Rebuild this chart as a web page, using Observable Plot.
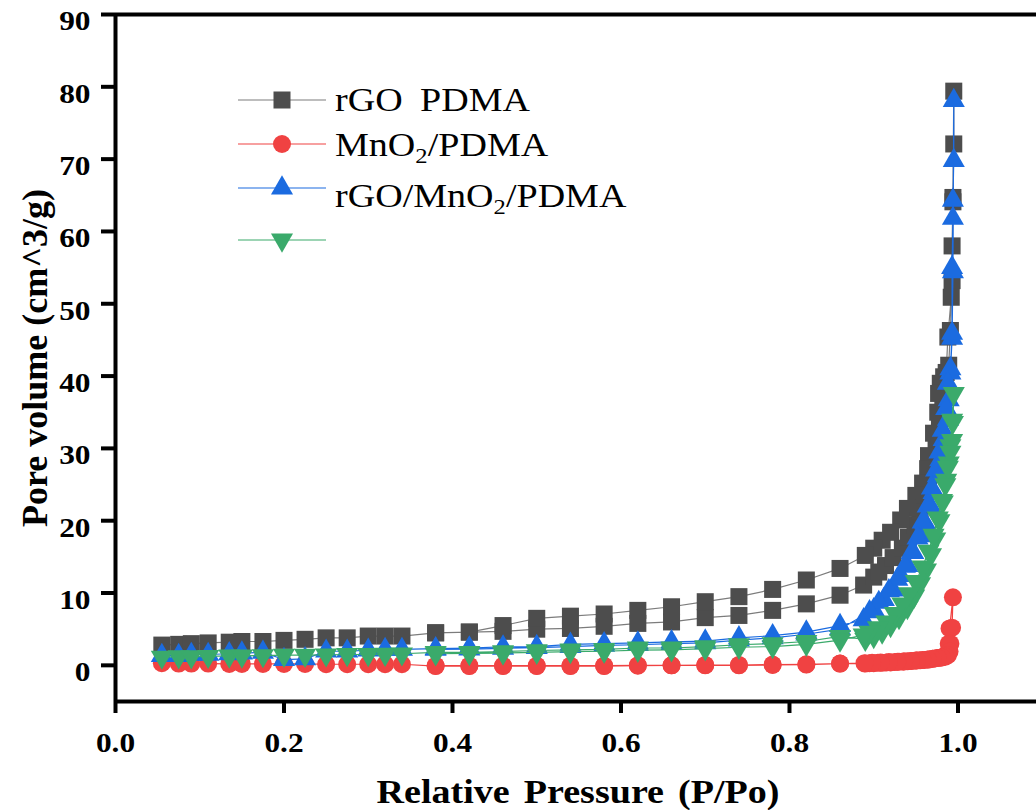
<!DOCTYPE html>
<html>
<head>
<meta charset="utf-8">
<script src="https://cdn.jsdelivr.net/npm/d3@7"></script>
<script src="https://cdn.jsdelivr.net/npm/@observablehq/plot@0.6"></script>
<style>
  body { margin: 0; background: #fff; }
</style>
</head>
<body>
<div id="chart"></div>
<script>
// N2 sorption isotherms: pore volume vs relative pressure, adsorption branch
// (low -> high P/Po) followed by the desorption branch (high -> low P/Po).

const seriesNames = ["rGO PDMA", "MnO2/PDMA", "rGO/MnO2/PDMA", ""];
const markerColors = ["#4d4d4d", "#f04242", "#1b6be0", "#3aaa6b"];
const lineColors = ["#7c7c7c", "#f04242", "#1b6be0", "#3aaa6b"];

const xTicks = [0, 0.2, 0.4, 0.6, 0.8, 1.0];
const yTicks = [0, 10, 20, 30, 40, 50, 60, 70, 80, 90];

// shared pressure steps of the adsorption start and of the mid range
const pLow = [0.055, 0.075, 0.09, 0.11, 0.135, 0.15, 0.175, 0.2, 0.225, 0.25, 0.275, 0.3, 0.32, 0.34];
const pMid = [0.38, 0.42, 0.46, 0.50, 0.54, 0.58, 0.62, 0.66, 0.70, 0.74, 0.78, 0.82, 0.86];

// rGO PDMA
const rgoLow = [2.8, 2.9, 3.0, 3.1, 3.2, 3.3, 3.3, 3.45, 3.6, 3.8, 3.8, 4.05, 4.05, 4.05];
const rgoMidAds = [4.5, 4.6, 4.7, 5.0, 5.1, 5.4, 5.8, 6.0, 6.6, 6.9, 7.6, 8.5, 9.7];
const rgoHighAdsP = [0.888, 0.9, 0.906, 0.914, 0.923, 0.934, 0.941, 0.949, 0.955, 0.961, 0.965, 0.97, 0.974, 0.978, 0.982, 0.986, 0.988, 0.992, 0.993, 0.994, 0.995];
const rgoHighAdsV = [11.1, 12.2, 12.9, 13.8, 14.9, 16.2, 17.7, 19.4, 21.4, 23.8, 26.0, 28.4, 31.0, 34.0, 37.0, 40.5, 45.4, 50.9, 58.0, 64.7, 79.4];
const rgoHighDesP = [0.995, 0.994, 0.993, 0.991, 0.989, 0.983, 0.979, 0.977, 0.976, 0.971, 0.965, 0.964, 0.958, 0.95, 0.94, 0.932, 0.92, 0.91, 0.9, 0.89];
const rgoHighDesV = [72.1, 64.1, 53.2, 46.3, 41.5, 39.9, 39.0, 37.6, 35.0, 32.1, 29.0, 27.2, 25.2, 23.5, 21.7, 20.1, 18.4, 17.3, 16.2, 15.2];
const rgoMidDes = [4.5, 4.6, 5.5, 6.5, 6.8, 7.1, 7.6, 8.1, 8.8, 9.5, 10.5, 11.8, 13.4];

// MnO2/PDMA
const mnoLow = [0.3, 0.25, 0.25, 0.25, 0.2, 0.2, 0.2, 0.2, 0.2, 0.15, 0.15, 0.15, 0.15, 0.15];
const mnoMidAds = [-0.1, -0.1, -0.1, -0.1, -0.1, -0.1, -0.05, 0, 0, 0, 0.05, 0.1, 0.25];
const mnoHighAdsP = [0.89, 0.895, 0.9, 0.905, 0.91, 0.915, 0.92, 0.925, 0.93, 0.935, 0.94, 0.945, 0.95, 0.955, 0.96, 0.965, 0.97, 0.975, 0.98, 0.984, 0.987, 0.989, 0.99, 0.994];
const mnoHighAdsV = [0.25, 0.3, 0.3, 0.35, 0.35, 0.4, 0.4, 0.45, 0.5, 0.5, 0.55, 0.6, 0.65, 0.7, 0.75, 0.8, 0.9, 1.0, 1.1, 1.3, 1.6, 3.0, 5.1, 9.4];
const mnoHighDesP = [0.993, 0.991, 0.99, 0.988, 0.985, 0.981, 0.976, 0.97, 0.964, 0.958, 0.951, 0.944, 0.936, 0.928, 0.918, 0.908, 0.898, 0.889];
const mnoHighDesV = [5.2, 3.0, 1.9, 1.4, 1.2, 1.1, 1.0, 0.9, 0.8, 0.75, 0.7, 0.6, 0.55, 0.5, 0.45, 0.4, 0.35, 0.3];
const mnoMidDes = [-0.05, -0.05, -0.05, -0.05, -0.05, -0.05, 0, 0, 0.05, 0.05, 0.1, 0.15, 0.25];

// rGO/MnO2/PDMA
const triLow = [1.35, 1.35, 1.5, 1.5, 1.6, 1.7, 1.8, 0.8, 0.9, 1.95, 1.95, 2.1, 2.2, 2.2];
const triMidAds = [2.3, 2.4, 2.55, 2.6, 2.9, 3.0, 3.1, 3.25, 3.35, 3.8, 4.1, 4.6, 5.5];
const triHighAdsP = [0.888, 0.9, 0.912, 0.923, 0.932, 0.94, 0.947, 0.955, 0.961, 0.967, 0.971, 0.976, 0.979, 0.983, 0.988, 0.989, 0.991, 0.993, 0.994, 0.995];
const triHighAdsV = [6.3, 7.7, 9.1, 10.4, 12.4, 13.8, 15.6, 17.9, 19.7, 22.1, 23.9, 26.2, 28.4, 31.2, 34.0, 36.7, 40.4, 45.2, 54.4, 78.1];
const triHighDesP = [0.995, 0.994, 0.994, 0.993, 0.993, 0.991, 0.988, 0.986, 0.982, 0.978, 0.974, 0.969, 0.964, 0.958, 0.952, 0.945, 0.937, 0.928, 0.918, 0.906, 0.895];
const triHighDesV = [69.8, 64.3, 61.8, 55.0, 45.9, 41.0, 39.0, 35.5, 32.5, 29.5, 27.0, 24.5, 22.0, 19.8, 17.6, 15.6, 13.7, 11.9, 10.3, 8.7, 7.4];
const triMidDes = [2.2, 2.25, 2.35, 2.45, 2.6, 2.75, 2.85, 3.0, 3.1, 3.5, 3.8, 4.3, 5.0];

// fourth sample (no legend text)
const invLow = [1.15, 1.2, 1.2, 1.25, 1.3, 1.3, 1.35, 1.4, 1.4, 1.45, 1.5, 1.5, 1.55, 1.6];
const invMidAds = [1.8, 1.8, 1.9, 2.05, 2.15, 2.2, 2.4, 2.4, 2.6, 2.85, 3.0, 3.3, 4.0];
const invHighAdsP = [0.89, 0.9, 0.91, 0.92, 0.93, 0.94, 0.948, 0.955, 0.962, 0.968, 0.973, 0.978, 0.982, 0.986, 0.989, 0.991, 0.993, 0.995];
const invHighAdsV = [3.6, 4.0, 4.6, 5.5, 6.6, 8.0, 9.6, 11.3, 13.2, 15.3, 17.5, 20.0, 22.6, 25.6, 28.0, 30.4, 33.9, 37.6];
const invHighDesP = [0.994, 0.993, 0.991, 0.988, 0.985, 0.981, 0.976, 0.971, 0.965, 0.958, 0.95, 0.942, 0.934, 0.925, 0.915, 0.905, 0.895, 0.888];
const invHighDesV = [33.6, 31.1, 29.5, 27.4, 25.0, 22.8, 20.4, 18.0, 15.8, 13.6, 11.6, 9.9, 8.5, 7.2, 6.0, 5.2, 4.6, 4.2];
const invMidDes = [1.6, 1.65, 1.7, 1.8, 1.9, 1.95, 2.1, 2.15, 2.3, 2.5, 2.6, 2.9, 3.5];

const pairs = (ps, vs) => ps.map((p, i) => ({p, v: vs[i]}));

// one continuous path per sample: adsorption up, then desorption back down
function isotherm(low, midAds, hiAdsP, hiAdsV, hiDesP, hiDesV, midDes) {
  return [
    ...pairs(pLow, low),
    ...pairs(pMid, midAds),
    ...pairs(hiAdsP, hiAdsV),
    ...pairs(hiDesP, hiDesV),
    ...pairs(pMid, midDes).reverse()
  ];
}

const samples = [
  isotherm(rgoLow, rgoMidAds, rgoHighAdsP, rgoHighAdsV, rgoHighDesP, rgoHighDesV, rgoMidDes),
  isotherm(mnoLow, mnoMidAds, mnoHighAdsP, mnoHighAdsV, mnoHighDesP, mnoHighDesV, mnoMidDes),
  isotherm(triLow, triMidAds, triHighAdsP, triHighAdsV, triHighDesP, triHighDesV, triMidDes),
  isotherm(invLow, invMidAds, invHighAdsP, invHighAdsV, invHighDesP, invHighDesV, invMidDes)
];

// downward-pointing triangle, same area convention as d3.symbolTriangle
const sqrt3 = Math.sqrt(3);
const triangleDown = {
  draw(context, size) {
    const y = Math.sqrt(size / (sqrt3 * 3));
    context.moveTo(0, y * 2);
    context.lineTo(-sqrt3 * y, -y);
    context.lineTo(sqrt3 * y, -y);
    context.closePath();
  }
};
const symbols = ["square", "circle", "triangle", triangleDown];
const d3Symbols = [d3.symbolSquare, d3.symbolCircle, d3.symbolTriangle, triangleDown];
const radii = [9.6, 9, 8.2, 8.2];

const FONT = '"Liberation Serif", "Times New Roman", serif';
const STRETCH = 1.12;

const marks = [];
samples.forEach((rows, i) => {
  marks.push(Plot.line(rows, {x: "p", y: "v", stroke: lineColors[i], strokeWidth: 1.2}));
  marks.push(Plot.dot(rows, {x: "p", y: "v", symbol: symbols[i], r: radii[i], fill: markerColors[i], stroke: "none"}));
});

const chart = Plot.plot({
  width: 1036,
  height: 810,
  marginLeft: 115,
  marginRight: 0,
  marginTop: 14,
  marginBottom: 109,
  style: {fontFamily: FONT, fontWeight: "bold", color: "#000", background: "#fff"},
  x: {domain: [0, 1.0932]},
  y: {domain: [-5, 90]},
  marks: [
    ...marks,
    Plot.ruleX([0], {strokeWidth: 4}),
    Plot.ruleY([-5, 90], {strokeWidth: 4}),
    Plot.axisX({ticks: xTicks, tickFormat: d3.format(".1f"), tickSize: 12, tickPadding: 19, strokeWidth: 4, fontSize: 28, label: null}),
    Plot.axisY({ticks: yTicks, tickSize: 14, strokeWidth: 4, fill: "none", label: null}),
    Plot.axisY({ticks: yTicks, tickFormat: d3.format("d"), tickSize: 0, tickPadding: 25, dy: 7, fontSize: 28, label: null})
  ]
});

document.getElementById("chart").appendChild(chart);
const svg = d3.select(chart);

// widen the horizontal type a little
svg.selectAll("text").attr("transform", function () {
  return (this.getAttribute("transform") || "") + ` scale(${STRETCH},1)`;
});

// legend
const legendY = [100, 144, 188, 240];
const legendBaseline = [111, 156, 207, 259];
const legend = svg.append("g").attr("font-family", FONT);
seriesNames.forEach((name, i) => {
  const y = legendY[i];
  legend.append("line")
    .attr("x1", 238).attr("x2", 326).attr("y1", y).attr("y2", y)
    .attr("stroke", lineColors[i]).attr("stroke-width", 1.2);
  legend.append("path")
    .attr("transform", `translate(282,${y})`)
    .attr("d", d3.symbol(d3Symbols[i], Math.PI * radii[i] * radii[i])())
    .attr("fill", markerColors[i]);
  if (!name) return;
  const t = legend.append("text")
    .attr("transform", `translate(335,${legendBaseline[i]}) scale(${STRETCH},1)`)
    .attr("text-anchor", "start")
    .attr("font-size", 34).attr("font-weight", "normal").attr("fill", "#000")
    .attr("word-spacing", name === "rGO PDMA" ? 7 : 0);
  // digits that follow a letter are chemical subscripts
  name.split(/(?<=[A-Za-z])(\d)/).forEach((part, k) => {
    const sub = k % 2 === 1;
    const ts = t.append("tspan").text(part);
    if (sub) ts.attr("font-size", 22).attr("dy", 7);
    else if (k > 0) ts.attr("dy", -7);
  });
});

// axis titles
svg.append("text")
  .attr("transform", `translate(578,803) scale(${STRETCH},1)`)
  .attr("text-anchor", "middle")
  .attr("font-family", FONT).attr("font-weight", "bold").attr("font-size", 34)
  .attr("word-spacing", 4)
  .attr("fill", "#000")
  .text("Relative Pressure (P/Po)");

svg.append("text")
  .attr("transform", "translate(47,358) rotate(-90)")
  .attr("text-anchor", "middle")
  .attr("font-family", FONT).attr("font-weight", "bold").attr("font-size", 36)
  .attr("fill", "#000")
  .text("Pore volume (cm^3/g)");
</script>
</body>
</html>
